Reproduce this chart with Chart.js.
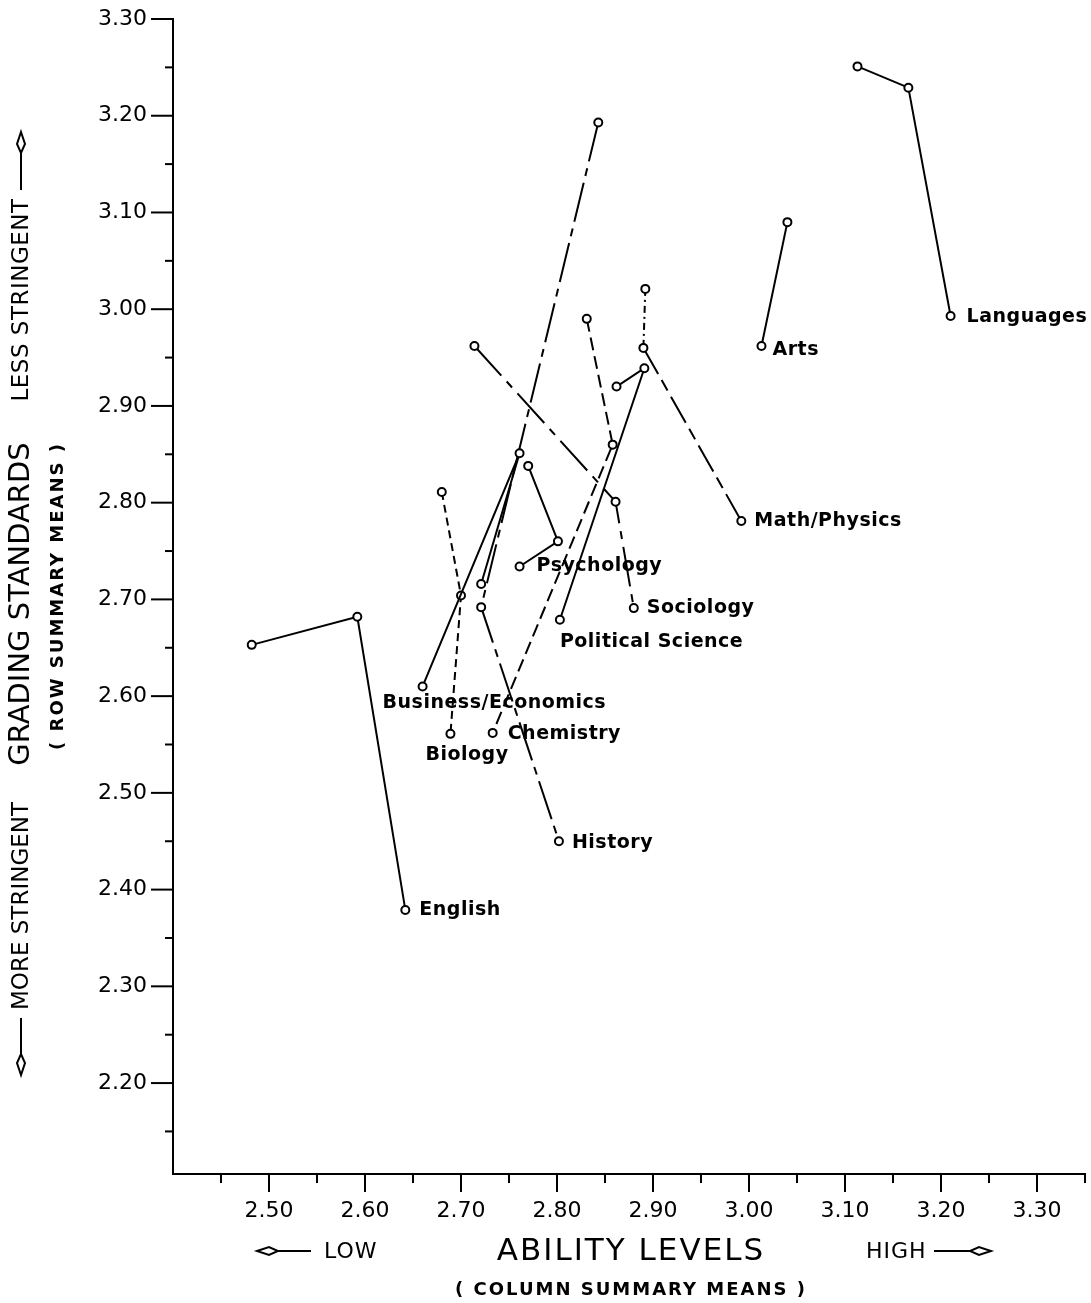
<!DOCTYPE html>
<html>
<head>
<meta charset="utf-8">
<title>Grading standards vs ability levels</title>
<script src="https://cdn.jsdelivr.net/npm/chart.js@4.4.1/dist/chart.umd.min.js"></script>
<style>
  html, body { margin: 0; padding: 0; background: #fff; }
  #wrap { width: 1091px; height: 1303px; }
</style>
</head>
<body>
<div id="wrap"><canvas id="chart" width="1091" height="1303"></canvas></div>
<script>
// each discipline: [ability level (column mean), grading standard (row mean)], label sits on the last point
const english = [[2.482, 2.653], [2.592, 2.682], [2.642, 2.379]];
const languages = [[3.113, 3.251], [3.166, 3.229], [3.210, 2.993]];
const arts = [[3.040, 3.090], [3.013, 2.962]];
const mathPhysics = [[2.892, 3.021], [2.890, 2.960], [2.992, 2.781]];
const psychology = [[2.770, 2.838], [2.801, 2.760], [2.761, 2.734]];
const sociology = [[2.714, 2.962], [2.861, 2.801], [2.880, 2.691]];
const politicalScience = [[2.862, 2.920], [2.891, 2.939], [2.803, 2.679]];
const businessEconomics = [[2.721, 2.716], [2.761, 2.851], [2.660, 2.610]];
const chemistry = [[2.831, 2.990], [2.858, 2.860], [2.733, 2.562]];
const biology = [[2.680, 2.811], [2.700, 2.704], [2.689, 2.561]];
const history = [[2.843, 3.193], [2.721, 2.692], [2.802, 2.450]];

const disciplines = ["English", "Languages", "Arts", "Math/Physics", "Psychology", "Sociology",
  "Political Science", "Business/Economics", "Chemistry", "Biology", "History"];
const series = [english, languages, arts, mathPhysics, psychology, sociology,
  politicalScience, businessEconomics, chemistry, biology, history];

const xTickLabels = ["2.50", "2.60", "2.70", "2.80", "2.90", "3.00", "3.10", "3.20", "3.30"];
const yTickLabels = ["2.20", "2.30", "2.40", "2.50", "2.60", "2.70", "2.80", "2.90", "3.00", "3.10", "3.20", "3.30"];

// styles, same order as disciplines
const dashes = [[], [], [], [30, 7, 12, 7], [], [40, 8, 8, 8], [], [], [13, 6], [8, 5], [40, 7, 8, 7]];
const labelOffsets = [[14, 0], [16, 1], [11, 4], [13, 0], [17, 0], [13, 0], [0, 22], [-40, 17], [15, 1], [-25, 21], [13, 2]];

const FONT = "'DejaVu Sans', 'Liberation Sans', sans-serif";

function onStep(v) {
  return Math.abs(v * 20 - Math.round(v * 20)) < 1e-6;
}

function arrowHead(ctx, x, y, dx, dy) {
  // hollow narrow diamond, tip at (x, y), pointing along (dx, dy)
  const px = -dy, py = dx;
  ctx.save();
  ctx.beginPath();
  ctx.moveTo(x, y);
  ctx.lineTo(x - dx * 12 + px * 4, y - dy * 12 + py * 4);
  ctx.lineTo(x - dx * 21, y - dy * 21);
  ctx.lineTo(x - dx * 12 - px * 4, y - dy * 12 - py * 4);
  ctx.closePath();
  ctx.fillStyle = "#fff";
  ctx.fill();
  ctx.stroke();
  ctx.restore();
}

const tickMarks = {
  id: "tickMarks",
  afterDraw(chart) {
    const ctx = chart.ctx;
    const xs = chart.scales.x, ys = chart.scales.y, area = chart.chartArea;
    ctx.save();
    ctx.strokeStyle = "#000";
    ctx.lineWidth = 2;
    xs.ticks.forEach(t => {
      if (!onStep(t.value) || t.value <= xs.min + 1e-6) return;
      const px = xs.getPixelForValue(t.value);
      const len = xTickLabels.includes(t.value.toFixed(2)) ? 18 : 9;
      ctx.beginPath();
      ctx.moveTo(px, area.bottom);
      ctx.lineTo(px, area.bottom + len);
      ctx.stroke();
    });
    ys.ticks.forEach(t => {
      if (!onStep(t.value)) return;
      const py = ys.getPixelForValue(t.value);
      const len = yTickLabels.includes(t.value.toFixed(2)) ? 22 : 8;
      ctx.beginPath();
      ctx.moveTo(area.left, py);
      ctx.lineTo(area.left - len, py);
      ctx.stroke();
    });
    ctx.restore();
  }
};

const pointLabels = {
  id: "pointLabels",
  afterDatasetsDraw(chart) {
    const ctx = chart.ctx;
    ctx.save();
    ctx.fillStyle = "#000";
    ctx.font = "bold 19px " + FONT;
    ctx.letterSpacing = "0.5px";
    ctx.textAlign = "left";
    ctx.textBaseline = "middle";
    chart.data.datasets.forEach((ds, i) => {
      const pts = chart.getDatasetMeta(i).data;
      const last = pts[pts.length - 1];
      const off = labelOffsets[i];
      ctx.fillText(ds.label, last.x + off[0], last.y + off[1]);
    });
    ctx.restore();
  }
};

const axisTitles = {
  id: "axisTitles",
  afterDraw(chart) {
    const ctx = chart.ctx;
    const area = chart.chartArea;
    const cx = (area.left + area.right) / 2;
    ctx.save();
    ctx.fillStyle = "#000";
    ctx.strokeStyle = "#000";
    ctx.lineWidth = 2;
    ctx.textBaseline = "middle";

    // bottom titles
    ctx.textAlign = "center";
    ctx.font = "31px " + FONT;
    ctx.letterSpacing = "2px";
    ctx.fillText("ABILITY LEVELS", cx + 2, 1252);
    ctx.font = "bold 18px " + FONT;
    ctx.letterSpacing = "2px";
    ctx.fillText("( COLUMN SUMMARY MEANS )", cx + 2, 1290);

    ctx.font = "22px " + FONT;
    ctx.letterSpacing = "1px";
    ctx.textAlign = "left";
    ctx.fillText("LOW", 324, 1252);
    ctx.fillText("HIGH", 866, 1252);
    ctx.beginPath(); ctx.moveTo(277, 1251); ctx.lineTo(311, 1251); ctx.stroke();
    arrowHead(ctx, 257, 1251, -1, 0);
    ctx.beginPath(); ctx.moveTo(934, 1251); ctx.lineTo(970, 1251); ctx.stroke();
    arrowHead(ctx, 991, 1251, 1, 0);

    // left titles, rotated
    const vtext = (txt, x, y, font, spacing) => {
      ctx.save();
      ctx.translate(x, y);
      ctx.rotate(-Math.PI / 2);
      ctx.fillStyle = "#000";
      ctx.font = font;
      ctx.letterSpacing = spacing;
      ctx.textAlign = "center";
      ctx.textBaseline = "middle";
      ctx.fillText(txt, 0, 0);
      ctx.restore();
    };
    vtext("LESS STRINGENT", 22, 300, "23px " + FONT, "0.5px");
    vtext("GRADING STANDARDS", 21, 604, "29px " + FONT, "0px");
    vtext("MORE STRINGENT", 22, 906, "23px " + FONT, "0px");
    vtext("( ROW SUMMARY MEANS )", 58, 596, "bold 18px " + FONT, "2px");

    ctx.beginPath(); ctx.moveTo(21, 153); ctx.lineTo(21, 190); ctx.stroke();
    arrowHead(ctx, 21, 132, 0, -1);
    ctx.beginPath(); ctx.moveTo(21, 1018); ctx.lineTo(21, 1054); ctx.stroke();
    arrowHead(ctx, 21, 1075, 0, 1);
    ctx.restore();
  }
};

const datasets = series.map((pts, i) => ({
  label: disciplines[i],
  data: pts.map(p => ({ x: p[0], y: p[1] })),
  showLine: true,
  fill: false,
  tension: 0,
  borderColor: "#000",
  borderWidth: 2,
  borderDash: dashes[i],
  pointRadius: 4,
  pointHoverRadius: 4,
  pointBorderWidth: 2,
  pointBorderColor: "#000",
  pointBackgroundColor: "#fff",
  segment: disciplines[i] === "Math/Physics"
    ? { borderDash: ctx => ctx.p0DataIndex === 0 ? [7, 4, 2, 4] : dashes[i] }
    : undefined
}));

const labelFor = list => v => {
  const s = Number(v).toFixed(2);
  return onStep(v) && list.includes(s) ? s : "";
};

new Chart(document.getElementById("chart").getContext("2d"), {
  type: "scatter",
  data: { datasets: datasets },
  options: {
    responsive: false,
    devicePixelRatio: 1,
    animation: false,
    layout: { padding: { top: 19, right: 4, left: 0, bottom: 0 } },
    plugins: { legend: { display: false }, tooltip: { enabled: false } },
    scales: {
      x: {
        type: "linear",
        min: 2.40,
        max: 3.35,
        afterFit: s => { s.height = 129; },
        border: { display: true, color: "#000", width: 2 },
        grid: { display: true, drawOnChartArea: false, drawTicks: true, tickLength: 18, tickColor: "rgba(0,0,0,0)" },
        ticks: {
          stepSize: 0.05,
          autoSkip: false,
          maxRotation: 0,
          padding: 6,
          color: "#000",
          font: { family: FONT, size: 22 },
          callback: labelFor(xTickLabels)
        }
      },
      y: {
        type: "linear",
        min: 2.106,
        max: 3.30,
        afterFit: s => { s.width = 173; },
        border: { display: true, color: "#000", width: 2 },
        grid: { display: true, drawOnChartArea: false, drawTicks: true, tickLength: 22, tickColor: "rgba(0,0,0,0)" },
        ticks: {
          stepSize: 0.05,
          autoSkip: false,
          padding: 4,
          color: "#000",
          font: { family: FONT, size: 22 },
          callback: labelFor(yTickLabels)
        }
      }
    }
  },
  plugins: [tickMarks, pointLabels, axisTitles]
});
</script>
</body>
</html>
